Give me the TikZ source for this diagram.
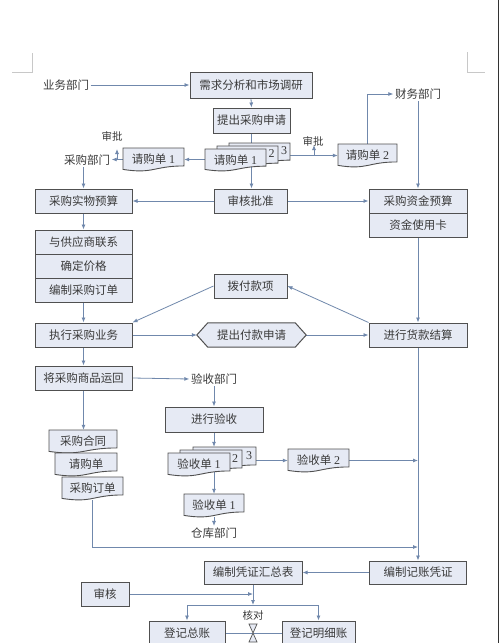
\documentclass[tikz,border=0pt]{standalone}
\usepackage{fontspec}
\setmainfont{Liberation Serif}
\newfontfamily\cjk{Noto Sans CJK SC}
\usetikzlibrary{arrows.meta,calc}
\pgfdeclarelayer{bg}\pgfdeclarelayer{lines}\pgfdeclarelayer{shapes}
\pgfsetlayers{bg,lines,shapes,main}
\definecolor{boxfill}{HTML}{E6EAF4}
\definecolor{bordc}{HTML}{505050}
\definecolor{arrc}{HTML}{7088AC}
\definecolor{txtc}{HTML}{3A3A3A}
\definecolor{cropc}{HTML}{C8C8C8}
\newcommand\myd[1]{{\rmfamily\fontsize{12}{13}\selectfont #1}}
\tikzset{
  box/.style={draw=bordc, fill=boxfill, line width=1pt, minimum height=24, inner sep=0pt,
    font=\cjk\fontsize{11.5}{13}\selectfont, text=txtc},
  docst/.style={draw=bordc, fill=boxfill, line width=0.9pt},
  doctxt/.style={inner sep=0pt, font=\cjk\fontsize{11.5}{13}\selectfont, text=txtc},
  lbl/.style={inner sep=1.5pt, font=\cjk\fontsize{11.5}{13}\selectfont, text=txtc},
  smalllbl/.style={inner sep=1pt, font=\cjk\fontsize{10.5}{12}\selectfont, text=txtc},
  numtxt/.style={inner sep=0pt, font=\rmfamily\fontsize{12}{13}\selectfont, text=txtc},
  arr/.style={draw=arrc, line width=0.8pt, -{Latex[length=5pt,width=4pt]}},
  ln/.style={draw=arrc, line width=0.8pt},
}
\newcommand\docnode[6]{%
  \begin{pgfonlayer}{shapes}
  \filldraw[docst] (#2,#3) -- (#4,#3) -- (#4,{#3+0.78*(#5-#3)})
    .. controls ({(#2+#4)/2},{#3+0.78*(#5-#3)}) and ({(#2+#4)/2},{#3+1.14*(#5-#3)}) .. (#2,{#3+0.93*(#5-#3)}) -- cycle;
  \end{pgfonlayer}
  \node[doctxt, minimum width={#4-#2}, minimum height={#5-#3}] (#1) at ({(#2+#4)/2},{(#3+#5)/2}) {\raisebox{1.5pt}{#6}};}
\begin{document}
\begin{tikzpicture}[x=1pt,y=-1pt]
\useasboundingbox (0,0) rectangle (500,643);
\begin{pgfonlayer}{bg}
\fill[white] (0,0) rectangle (500,643);
\draw[cropc, line width=0.8pt] (32,53) -- (32,72) -- (12,72);
\draw[cropc, line width=0.8pt] (467,52) -- (467,72) -- (485,72);
\draw[black!80, line width=1.4pt] (498.5,0) -- (498.5,643);
\end{pgfonlayer}
\clip (0,0) rectangle (500,643);

% ---------- text labels ----------
\node[lbl] (ywbm) at (66,85) {业务部门};
\node[lbl] (cgbm) at (87,160) {采购部门};
\node[smalllbl] (spLt) at (112,136) {审批};
\node[smalllbl] (spRt) at (313,141) {审批};
\node[lbl] (cwbm) at (418,94) {财务部门};
\node[lbl] (ysbm) at (214,379) {验收部门};
\node[lbl] (ckbm) at (214,533) {仓库部门};
\node[smalllbl] (hd) at (253,615) {核对};

% ---------- boxes ----------
\node[box, minimum width=122, minimum height=26] (xq) at (251,85) {需求分析和市场调研};
\node[box, minimum width=77, minimum height=25] (tc) at (251.5,120.5) {提出采购申请};
\node[box, minimum width=97] (cgsw) at (83.5,201) {采购实物预算};
\node[box, minimum width=73] (shpz) at (250.5,201) {审核批准};
\node[box, minimum width=98] (zjys) at (418,201) {采购资金预算};
\node[box, minimum width=98] (zjk) at (418,225) {资金使用卡};
\node[box, minimum width=97] (lx) at (83.5,242) {与供应商联系};
\node[box, minimum width=97] (jg) at (83.5,266) {确定价格};
\node[box, minimum width=97] (dd) at (83.5,290) {编制采购订单};
\node[box, minimum width=73] (bf) at (250.5,286) {拨付款项};
\node[box, minimum width=97] (zx) at (83.5,335) {执行采购业务};
\node[lbl, inner sep=0pt, minimum width=109, minimum height=24] (hex) at (251.5,335) {提出付款申请};
\begin{pgfonlayer}{shapes}
\filldraw[docst, line width=1pt] (hex.west) -- ($(hex.north west)+(11,0)$) -- ($(hex.north east)+(-11,0)$) -- (hex.east)
  -- ($(hex.south east)+(-11,0)$) -- ($(hex.south west)+(11,0)$) -- cycle;
\end{pgfonlayer}
\node[box, minimum width=98] (hk) at (418,335) {进行货款结算};
\node[box, minimum width=97] (yh) at (83.5,378) {将采购商品运回};
\node[box, minimum width=98, minimum height=25] (jxys) at (214,419.5) {进行验收};
\node[box, minimum width=98, minimum height=23] (hzb) at (253,572.5) {编制凭证汇总表};
\node[box, minimum width=97, minimum height=23] (jzpz) at (418,572.5) {编制记账凭证};
\node[box, minimum width=48] (sh) at (105,594) {审核};
\node[box, minimum width=76] (zz) at (187,633) {登记总账};
\node[box, minimum width=73] (mx) at (318.5,633) {登记明细账};

% ---------- documents ----------
\docnode{rqB3}{229}{143}{290}{165}{}
\docnode{rqB2}{217}{146}{278}{168}{}
\docnode{rqF}{205}{149}{266}{171}{请购单 \myd{1}}
\node[numtxt] (rq2n) at (271.5,154) {2};
\node[numtxt] (rq3n) at (284,151) {3};
\docnode{rqL}{123}{148}{184}{171}{请购单 \myd{1}}
\docnode{rq2}{338}{144}{397}{167}{请购单 \myd{2}}
\docnode{ht}{49}{430}{117}{453}{采购合同}
\docnode{qg}{55}{453}{117}{476}{请购单}
\docnode{ddD}{62}{477}{123}{500}{采购订单}
\docnode{ysB3}{193}{447}{256}{470}{}
\docnode{ysB2}{180}{450}{242}{473}{}
\docnode{ysF}{168}{453}{230}{476}{验收单 \myd{1}}
\node[numtxt] (ys2n) at (235,459) {2};
\node[numtxt] (ys3n) at (249,456) {3};
\docnode{ys2}{288}{449}{349}{472}{验收单 \myd{2}}
\docnode{ys1b}{184}{494}{244}{517}{验收单 \myd{1}}

% hourglass (collate)
\begin{pgfonlayer}{shapes}
\filldraw[docst, line width=0.7pt] (249,624) -- (257,624) -- (249,642) -- (257,642) -- cycle;
\end{pgfonlayer}

% ---------- connectors ----------
\coordinate (spL) at (117,160);
\coordinate (spR) at (314,155);
\coordinate (jn) at (418,547);
\coordinate (jt) at (253,605);
\begin{pgfonlayer}{lines}
\draw[arr] (ywbm.east) -- (xq.west);
\draw[arr] (xq.south) -- (tc.north);
\draw[arr] (tc.south) -- (shpz.north -| tc.south);
\draw[arr] (rqF.west |- rqL.east) -- (rqL.east);
\draw[arr] (rqL.west) -- (rqL.west -| cgbm.east);
\draw[arr] (spL) -- ++(0,-11);
\draw[arr] (cgbm.south -| cgsw.north) -- (cgsw.north);
\draw[arr] (rq2.west -| rqB3.east) -- (rq2.west);
\draw[arr] (spR) -- ++(0,-10);
\draw[arr] (rq2.north) |- (cwbm.west);
\draw[arr] (cwbm.south) -- (zjys.north);
\draw[arr] (shpz.west) -- (cgsw.east);
\draw[arr] (shpz.east) -- (zjys.west);
\draw[arr] (cgsw.south) -- (lx.north);
\draw[arr] (zjk.south) -- (hk.north);
\draw[arr] (hk.north west) -- (bf.east);
\draw[arr] (bf.west) -- (zx.north east);
\draw[arr] (dd.south) -- (zx.north);
\draw[arr] (zx.east) -- (hex.west);
\draw[arr] (hex.east) -- (hk.west);
\draw[arr] (zx.south) -- (yh.north);
\draw[arr] (yh.east) -- (ysbm.west);
\draw[arr] (ysbm.south) -- (jxys.north);
\draw[arr] (yh.south) -- (ht.north -| yh.south);
\draw[arr] (jxys.south) -- (jxys.south |- ysB3.north);
\draw[arr] (jxys.south |- ysF.center) -- (ys1b.north);
\draw[arr] (ys1b.south) -- (ckbm.north);
\draw[arr] (ys2.west -| ysB3.east) -- (ys2.west);
\draw[arr] (ys2.east) -- (ys2.east -| hk.south);
\draw[arr] (hk.south) -- (jzpz.north);
\draw[arr] (ddD.south) |- (jn);
\draw[arr] (jzpz.west) -- (hzb.east);
\draw[arr] (sh.east) -- (sh.east -| hzb.south);
\draw[arr] (hzb.south) -- (jt);
\draw[arr] (jt) -| (zz.north);
\draw[arr] (jt) -| (mx.north);
\draw[ln] (zz.east) -- (mx.west);
\end{pgfonlayer}
\end{tikzpicture}
\end{document}
